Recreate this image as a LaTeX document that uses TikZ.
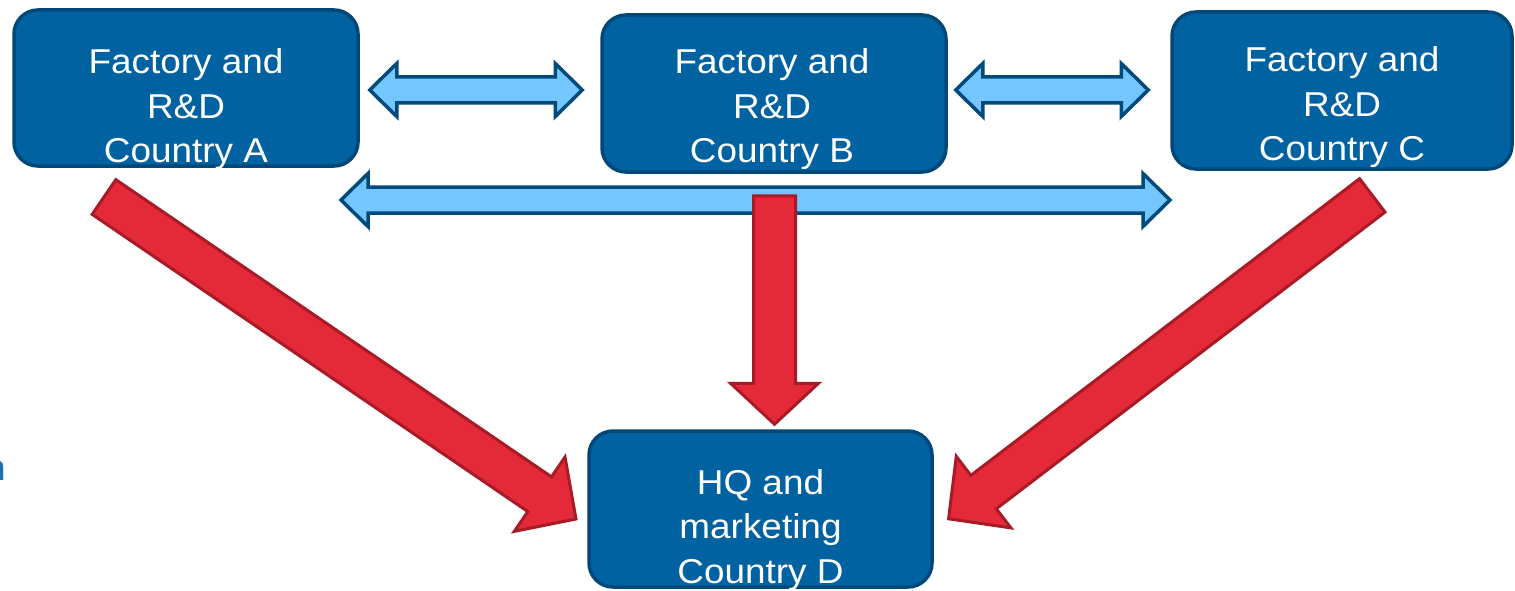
\documentclass[tikz,border=0pt]{standalone}
\usepackage{fontspec}
\setmainfont{Liberation Sans}
\usetikzlibrary{calc}
\definecolor{boxfill}{HTML}{0062A0}
\definecolor{boxline}{HTML}{00487A}
\definecolor{lbfill}{HTML}{74C6FE}
\definecolor{lbline}{HTML}{004B7C}
\definecolor{rfill}{HTML}{E42A38}
\definecolor{rline}{HTML}{A81B26}
\definecolor{frag}{HTML}{1F6FB5}
\setlength{\tabcolsep}{0pt}
% red block arrow: #1 prefix, #2 tail, #3 tip, #4 half shaft, #5 half head, #6 head length
\newcommand{\redblockarrow}[6]{%
  \coordinate (#1h) at ($(#3)!#6!(#2)$);
  \draw[redarrow] ($(#2)!#4!90:(#3)$) -- ($(#1h)!#4!90:(#3)$) -- ($(#1h)!#5!90:(#3)$) -- (#3)
    -- ($(#1h)!#5!-90:(#3)$) -- ($(#1h)!#4!-90:(#3)$) -- ($(#2)!#4!-90:(#3)$) -- cycle;
}
% blue double block arrow
\newcommand{\bluedblarrow}[6]{%
  \coordinate (#1a) at ($(#2)!#6!(#3)$);
  \coordinate (#1b) at ($(#3)!#6!(#2)$);
  \draw[bluearrow] (#2) -- ($(#1a)!#5!90:(#3)$) -- ($(#1a)!#4!90:(#3)$) -- ($(#1b)!#4!90:(#3)$)
    -- ($(#1b)!#5!90:(#3)$) -- (#3) -- ($(#1b)!#5!-90:(#3)$) -- ($(#1b)!#4!-90:(#3)$)
    -- ($(#1a)!#4!-90:(#3)$) -- ($(#1a)!#5!-90:(#3)$) -- cycle;
}
\tikzset{
  box/.style={draw=boxline, fill=boxfill, line width=3.5pt, rounded corners=24pt, inner sep=0pt},
  txt/.style={text=white, inner sep=0pt, anchor=base, xscale=1.07,
    font=\fontsize{34.5}{44.5}\selectfont},
  redarrow/.style={draw=rline, fill=rfill, line width=3pt, line join=miter},
  bluearrow/.style={draw=lbline, fill=lbfill, line width=3.5pt, line join=miter},
}
\begin{document}
\begin{tikzpicture}[x=1pt,y=-1pt]
\useasboundingbox (0,0) rectangle (1515,591);
\fill[white] (0,0) rectangle (1515,591);

% boxes
\node[box, minimum width=344pt, minimum height=156pt] (A) at (186,88) {};
\node[box, minimum width=344pt, minimum height=157pt] (B) at (774,93.5) {};
\node[box, minimum width=340pt, minimum height=157pt] (C) at (1342,90.5) {};
\node[box, minimum width=343pt, minimum height=156pt] (D) at (760.5,509) {};

% texts
\node[txt] (tA) at (186,74) {\begin{tabular}[t]{c}Factory and\\R\&D\\Country A\end{tabular}};
\node[txt] (tB) at (772,74) {\begin{tabular}[t]{c}Factory and\\R\&D\\Country B\end{tabular}};
\node[txt] (tC) at (1342,72) {\begin{tabular}[t]{c}Factory and\\R\&D\\Country C\end{tabular}};
\node[txt] (tD) at (760.5,494) {\begin{tabular}[t]{c}HQ and\\marketing\\Country D\end{tabular}};

% fragment of text at left edge
\node[text=frag, inner sep=0pt, anchor=base west, font=\fontsize{36}{40}\selectfont] (frag) at (-14.6,480) {n};

% blue double arrows
\coordinate (abL) at ($(A.east)+(10,2)$);
\coordinate (abR) at ($(B.west)+(-18,-3.5)$);
\bluedblarrow{ab}{abL}{abR}{13pt}{26.5pt}{27pt}
\coordinate (bcL) at ($(B.east)+(8,-3.5)$);
\coordinate (bcR) at ($(C.west)+(-22,-0.5)$);
\bluedblarrow{bc}{bcL}{bcR}{13pt}{26.5pt}{27pt}
\coordinate (acL) at (341,200);
\coordinate (acR) at (1170,200);
\bluedblarrow{ac}{acL}{acR}{13pt}{26.5pt}{27pt}

% red arrows
\coordinate (rAs) at (104,197);
\coordinate (rAe) at (576,519);
\redblockarrow{rA}{rAs}{rAe}{21pt}{45pt}{44pt}
\coordinate (rBs) at ($(B.south)+(0.5,22)$);
\coordinate (rBe) at ($(D.north)+(14,-5)$);
\redblockarrow{rB}{rBs}{rBe}{21pt}{44pt}{41pt}
\coordinate (rCs) at (1372.3,195.4);
\coordinate (rCe) at (948.6,518.8);
\redblockarrow{rC}{rCs}{rCe}{21pt}{45pt}{44pt}
\end{tikzpicture}
\end{document}
